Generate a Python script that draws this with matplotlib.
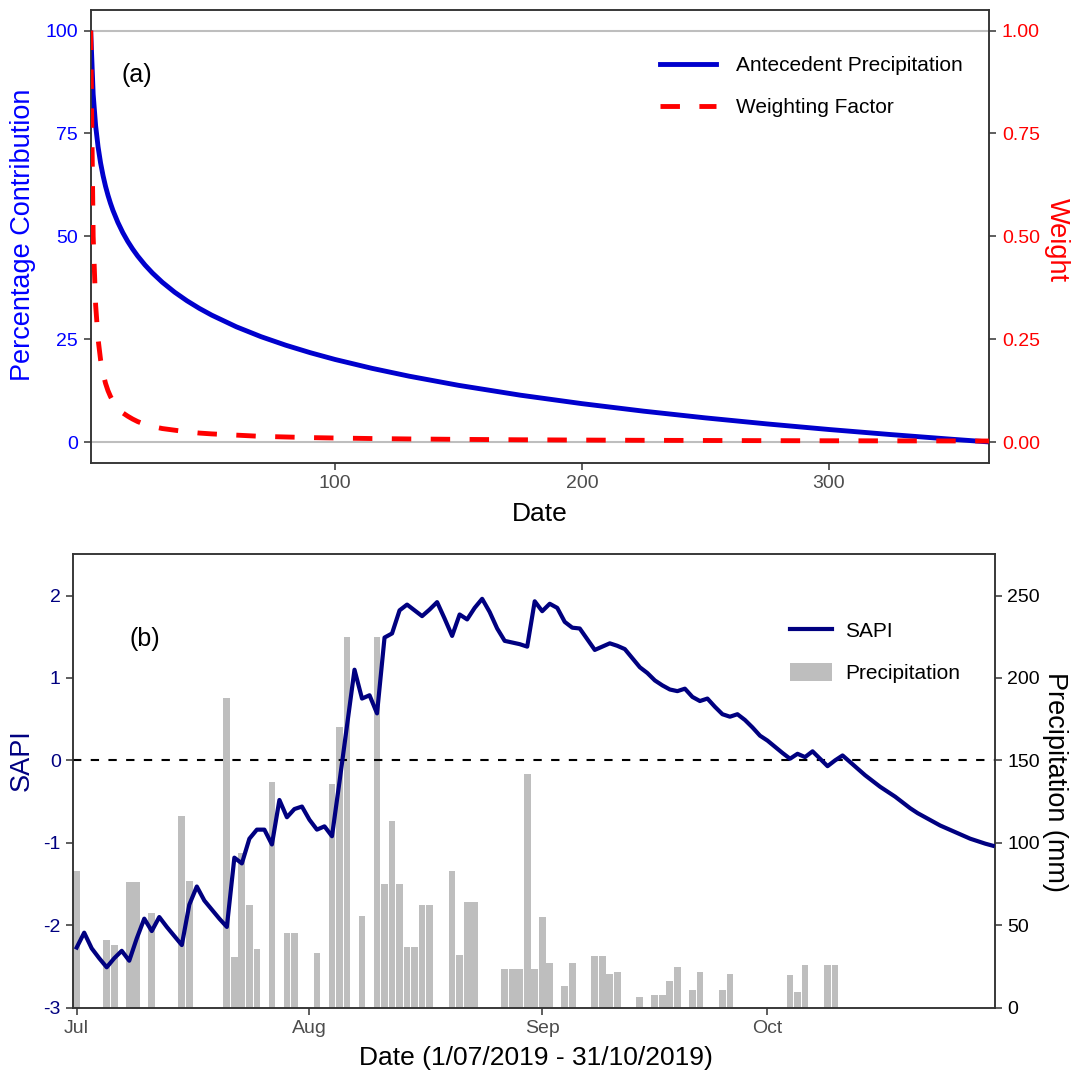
import matplotlib
matplotlib.use("Agg")
import matplotlib.pyplot as plt
import matplotlib.dates as mdates
from matplotlib.lines import Line2D
from matplotlib.patches import Patch
import pandas as pd

plt.rcParams['font.family'] = ['Liberation Sans', 'DejaVu Sans']
plt.rcParams['axes.unicode_minus'] = False

# ---------------- Panel (a) data ----------------
days_a = [1, 2, 3, 4, 5, 6, 7, 8, 9, 10, 12, 14, 16, 18, 20, 23, 26, 30, 35, 40, 45, 50,
          60, 70, 80, 90, 100, 115, 130, 150, 175, 200, 225, 250, 275, 300, 325, 350, 365]
antecedent_pct = [100, 84.56, 76.85, 71.70, 67.84, 64.76, 62.18, 59.98, 58.05, 56.33, 53.39,
                  50.91, 48.78, 46.91, 45.24, 43.03, 41.10, 38.85, 36.43, 34.34, 32.50, 30.86,
                  28.02, 25.62, 23.55, 21.72, 20.08, 17.92, 16.02, 13.80, 11.41, 9.35, 7.52,
                  5.89, 4.42, 3.07, 1.84, 0.69, 0.04]
weighting = [1.0, 0.5, 0.333, 0.25, 0.2, 0.167, 0.143, 0.125, 0.111, 0.1, 0.083, 0.071, 0.063,
             0.056, 0.05, 0.043, 0.038, 0.033, 0.029, 0.025, 0.022, 0.02, 0.017, 0.014, 0.0125,
             0.011, 0.01, 0.0087, 0.0077, 0.0067, 0.0057, 0.005, 0.0044, 0.004, 0.0036,
             0.0033, 0.0031, 0.0029, 0.0027]

# ---------------- Panel (b) data ----------------
start_date = "2019-07-01"
sapi = [-2.27, -2.09, -2.28, -2.40, -2.51, -2.40, -2.31, -2.43, -2.16, -1.92,
        -2.07, -1.90, -2.02, -2.13, -2.24, -1.75, -1.53, -1.70, -1.81, -1.92,
        -2.02, -1.18, -1.25, -0.95, -0.84, -0.84, -1.02, -0.48, -0.69, -0.59,
        -0.56, -0.72, -0.84, -0.80, -0.92, -0.26, 0.42, 1.10, 0.75, 0.79,
        0.57, 1.49, 1.54, 1.82, 1.89, 1.82, 1.75, 1.83, 1.92, 1.72,
        1.51, 1.77, 1.71, 1.85, 1.96, 1.80, 1.60, 1.45, 1.43, 1.41,
        1.38, 1.93, 1.81, 1.90, 1.85, 1.68, 1.61, 1.60, 1.47, 1.34,
        1.38, 1.42, 1.39, 1.35, 1.24, 1.13, 1.06, 0.97, 0.91, 0.86,
        0.84, 0.87, 0.77, 0.72, 0.75, 0.65, 0.56, 0.53, 0.56, 0.49,
        0.40, 0.30, 0.24, 0.165, 0.09, 0.02, 0.08, 0.04, 0.11, 0.02,
        -0.07, 0.00, 0.06, -0.02, -0.10, -0.18, -0.25, -0.32, -0.38, -0.44,
        -0.51, -0.58, -0.64, -0.69, -0.74, -0.79, -0.83, -0.87, -0.91, -0.95,
        -0.98, -1.01, -1.035]
precip = [83, 0, 0, 0, 41, 38, 0, 76, 76, 0,
          57.5, 0, 0, 0, 116, 77, 0, 0, 0, 0,
          188, 31, 94, 62.5, 35.4, 0, 137, 0, 45.5, 45.5,
          0, 0, 33.4, 0, 135.6, 170, 225, 0, 55.6, 0,
          225, 75, 113, 75, 37, 37, 62, 62, 0, 0,
          83, 32, 64, 64, 0, 0, 0, 23.3, 23.3, 23.3,
          142, 23.3, 55, 27, 0, 13, 27, 0, 0, 31.5,
          31.5, 20.6, 21.4, 0, 0, 6.5, 0, 7.7, 7.7, 16.2,
          24.5, 0, 10.5, 21.7, 0, 0, 10.5, 20.4, 0, 0,
          0, 0, 0, 0, 0, 20, 9.7, 25.7, 0, 0,
          25.7, 25.7, 0, 0, 0, 0, 0, 0, 0, 0,
          0, 0, 0, 0, 0, 0, 0, 0, 0, 0,
          0, 0, 0]
dates = pd.date_range(start_date, periods=len(sapi), freq="D")

W, H = 1076, 1073
fig = plt.figure(figsize=(W / 100, H / 100), dpi=100)

spine_c = '#333333'
tick_kw = dict(length=5, width=1.1, color=spine_c, pad=4, labelsize=14)

# ================= Panel (a) =================
axA = fig.add_axes([90.7 / W, 1 - 462.7 / H, 898.6 / W, 452.7 / H])
axA.axhline(0, color='#BEBEBE', lw=1.5, zorder=1)
axA.axhline(100, color='#BEBEBE', lw=1.5, zorder=1)
axA.plot(days_a, antecedent_pct, color='#0000CD', lw=3.5, zorder=3, solid_capstyle='butt')
axA.set_xlim(1, 365)
axA.set_ylim(-5, 105)
axA.set_xticks([100, 200, 300])
axA.set_yticks([0, 25, 50, 75, 100])
axA.tick_params(axis='both', **tick_kw)
axA.tick_params(axis='x', labelcolor='#4D4D4D')
axA.tick_params(axis='y', labelcolor='blue')

axA2 = axA.twinx()
axA2.plot(days_a, weighting, color='red', lw=3.5, dashes=(4, 4), zorder=3)
axA2.set_ylim(-0.05, 1.05)
axA2.set_yticks([0, 0.25, 0.5, 0.75, 1.0])
axA2.set_yticklabels(['0.00', '0.25', '0.50', '0.75', '1.00'])
axA2.tick_params(axis='y', **tick_kw)
axA2.tick_params(axis='y', labelcolor='red')
for ax in (axA, axA2):
    for s in ax.spines.values():
        s.set_color(spine_c)
        s.set_linewidth(1.1)

axA.text((137 - 90.7) / 898.6, (462.7 - 75) / 452.7, '(a)', transform=axA.transAxes,
         ha='center', va='center', fontsize=18)

hA = [Line2D([], [], color='#0000CD', lw=3.5),
      Line2D([], [], color='red', lw=3.5, dashes=(4, 4))]
axA2.legend(hA, ['Antecedent Precipitation', 'Weighting Factor'], loc='upper left',
            bbox_to_anchor=((660 - 90.7) / 898.6, (462.7 - 56) / 452.7),
            frameon=False, fontsize=15, borderpad=0, borderaxespad=0,
            handlelength=2.7, handletextpad=0.95, labelspacing=1.11)

fig.text(23 / W, 1 - 235 / H, 'Percentage Contribution', rotation=90, color='blue',
         fontsize=19.5, ha='center', va='center')
fig.text(1057 / W, 1 - 240 / H, 'Weight', rotation=-90, color='red',
         fontsize=19.5, ha='center', va='center')
fig.text(539.5 / W, 1 - 514 / H, 'Date', color='black', fontsize=19,
         ha='center', va='center')

# ================= Panel (b) =================
axB = fig.add_axes([73.3 / W, 1 - 1007.7 / H, 921.7 / W, 453.4 / H])
axP = axB.twinx()
axP.bar(dates, precip, width=0.9, color='#BEBEBE', zorder=2)
axP.set_ylim(0, 275)
axP.set_yticks([0, 50, 100, 150, 200, 250])
axP.tick_params(axis='y', **tick_kw)
axP.tick_params(axis='y', labelcolor='black')

axB.set_zorder(axP.get_zorder() + 1)
axB.patch.set_visible(False)
axB.axhline(0, color='black', lw=1.5, dashes=(4, 4.5), zorder=2)
axB.plot(dates, sapi, color='#000080', lw=3, zorder=3, solid_joinstyle='round')
axB.set_ylim(-3, 2.5)
axB.set_yticks([-3, -2, -1, 0, 1, 2])
axB.set_xlim(dates[0] - pd.Timedelta(hours=10.8), dates[0] + pd.Timedelta(hours=122.3 * 24))
axB.xaxis.set_major_locator(mdates.MonthLocator())
axB.xaxis.set_major_formatter(mdates.DateFormatter('%b'))
axB.tick_params(axis='both', **tick_kw)
axB.tick_params(axis='x', labelcolor='#4D4D4D')
axB.tick_params(axis='y', labelcolor='#000080')
for ax in (axB, axP):
    for s in ax.spines.values():
        s.set_color(spine_c)
        s.set_linewidth(1.1)

axB.text((145 - 73.3) / 921.7, (1007.7 - 639) / 453.4, '(b)', transform=axB.transAxes,
         ha='center', va='center', fontsize=18)

hB = [Line2D([], [], color='#000080', lw=3),
      Patch(facecolor='#BEBEBE', edgecolor='none')]
axB.legend(hB, ['SAPI', 'Precipitation'], loc='upper left',
           bbox_to_anchor=((790 - 73.3) / 921.7, (1007.7 - 621) / 453.4),
           frameon=False, fontsize=15, borderpad=0, borderaxespad=0,
           handlelength=2.0, handleheight=0.9, handletextpad=0.63, labelspacing=1.08)

fig.text(22 / W, 1 - 760 / H, 'SAPI', rotation=90, color='#000080',
         fontsize=19.5, ha='center', va='center')
fig.text(1055 / W, 1 - 782 / H, 'Precipitation (mm)', rotation=-90, color='black',
         fontsize=19.5, ha='center', va='center')
fig.text(535.5 / W, 1 - 1058 / H, 'Date (1/07/2019 - 31/10/2019)', color='black',
         fontsize=19, ha='center', va='center')

fig.savefig('out.png', dpi=100)
